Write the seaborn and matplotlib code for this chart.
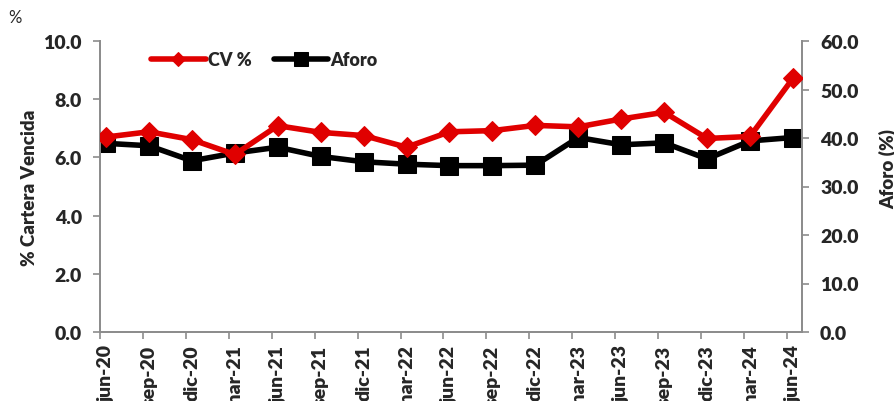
import numpy as np
import pandas as pd
import matplotlib
matplotlib.use("Agg")
import matplotlib.pyplot as plt
import seaborn as sns

periodos = ["jun-20", "sep-20", "dic-20", "mar-21", "jun-21", "sep-21", "dic-21",
            "mar-22", "jun-22", "sep-22", "dic-22", "mar-23", "jun-23", "sep-23",
            "dic-23", "mar-24", "jun-24"]
cv_pct = [6.70, 6.88, 6.61, 6.10, 7.09, 6.86, 6.75, 6.35, 6.88, 6.92, 7.10,
          7.05, 7.32, 7.55, 6.65, 6.72, 8.72]
aforo = [38.9, 38.4, 35.3, 36.9, 38.1, 36.2, 35.1, 34.6, 34.3, 34.3, 34.4,
         40.1, 38.6, 39.0, 35.7, 39.4, 40.1]
left_ticks = [0.0, 2.0, 4.0, 6.0, 8.0, 10.0]
right_ticks = [0.0, 10.0, 20.0, 30.0, 40.0, 50.0, 60.0]

sns.set_theme(style="white")
plt.rcParams["font.family"] = ["Lato", "DejaVu Sans"]

RED = "#E00000"
GRAY = "#8C8C8C"
W = "heavy"

df = pd.DataFrame({"pos": np.arange(len(periodos)), "cv": cv_pct, "aforo": aforo})

fig = plt.figure(figsize=(8.95, 4.02), dpi=100)
ax = fig.add_axes([100 / 895, 1 - 333 / 402, 702 / 895, 291 / 402])
ax2 = ax.twinx()

sns.lineplot(data=df, x="pos", y="cv", ax=ax, color=RED, linewidth=4.0,
             marker="D", markersize=10, markeredgecolor=RED, label="CV %",
             legend=False, zorder=3)
sns.lineplot(data=df, x="pos", y="aforo", ax=ax2, color="black", linewidth=4.0,
             marker="s", markersize=13, markeredgecolor="black", label="Aforo",
             legend=False, zorder=2)

# red series drawn above the black one
ax.set_zorder(ax2.get_zorder() + 1)
ax.patch.set_visible(False)

offset = 0.14
ax.set_xlim(-offset, len(periodos) - 1 + 0.21)
ax.set_ylim(0, 10)
ax2.set_ylim(0, 60)

ax.set_xticks(df["pos"])
ax.set_xticklabels(periodos, rotation=90, fontweight=W, fontsize=14)
ax.set_xticks(df["pos"] - offset, minor=True)
ax.tick_params(axis="x", which="major", length=0, pad=9)
ax.tick_params(axis="x", which="minor", length=5, width=1.2, color=GRAY,
               direction="out", bottom=True)

ax.set_yticks(left_ticks)
ax.set_yticklabels([f"{v:.1f}" for v in left_ticks], fontweight=W, fontsize=14)
ax.tick_params(axis="y", length=5, width=1.2, color=GRAY, left=True, pad=8)
ax2.set_yticks(right_ticks)
ax2.set_yticklabels([f"{v:.1f}" for v in right_ticks], fontweight=W, fontsize=14)
ax2.tick_params(axis="y", length=5, width=1.2, color=GRAY, right=True, pad=8)

ax.set_xlabel("")
ax.set_ylabel("% Cartera Vencida", fontweight=W, fontsize=13.5)
ax.yaxis.set_label_coords(-62 / 702, 0.5)
ax2.set_ylabel("Aforo (%)", fontweight=W, fontsize=13.5)
ax2.yaxis.set_label_coords(1 + 77 / 702, (333 - 169) / 291)

for a in (ax, ax2):
    a.spines["top"].set_visible(False)
    for side in ("left", "right", "bottom"):
        a.spines[side].set_color(GRAY)
        a.spines[side].set_linewidth(1.3)

fig.text(15 / 895, 1 - 18 / 402, "%", fontsize=12, ha="center", va="center")

h1, l1 = ax.get_legend_handles_labels()
h2, l2 = ax2.get_legend_handles_labels()
ax.legend(h1 + h2, l1 + l2, loc="upper left", bbox_to_anchor=(0.05, 1.02),
          ncol=2, frameon=False, prop={"weight": W, "size": 13},
          handlelength=3.0, handletextpad=0.15, columnspacing=1.2,
          markerscale=0.75)

fig.savefig("out.png", dpi=100)
